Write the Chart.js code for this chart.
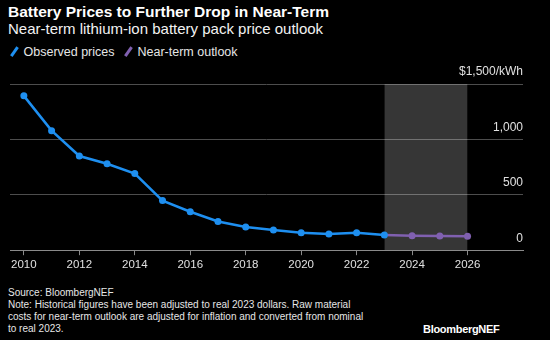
<!DOCTYPE html>
<html>
<head>
<meta charset="utf-8">
<script src="https://cdn.jsdelivr.net/npm/chart.js@4/dist/chart.umd.min.js"></script>
<style>
  body { margin: 0; background: #000; width: 550px; height: 340px; overflow: hidden; position: relative;
         font-family: "Liberation Sans", Arial, sans-serif; color: #fff; }
  #title { position: absolute; left: 8px; top: 3px; font-size: 15.5px; font-weight: bold; }
  #subtitle { position: absolute; left: 8px; top: 20px; font-size: 15px; color: #f2f2f2; }
  #legend { position: absolute; left: 8px; top: 45px; font-size: 12.5px; color: #e6e6e6; white-space: nowrap; }
  #legend span.item { margin-right: 4px; }
  #legend i { display: inline-block; width: 2.5px; height: 11px; transform: rotate(35deg); margin: 0 8px -1px 5px; }
  #chart-box { position: absolute; left: 0; top: 60px; }
  #footer { position: absolute; left: 8px; top: 287px; font-size: 10px; line-height: 12px; color: #e6e6e6; }
  #logo { position: absolute; left: 423px; top: 323px; font-size: 11px; font-weight: bold; letter-spacing: -0.3px; }
</style>
</head>
<body>
<div id="title">Battery Prices to Further Drop in Near-Term</div>
<div id="subtitle">Near-term lithium-ion battery pack price outlook</div>
<div id="legend">
  <span class="item"><i style="background:#1e8ff0"></i>Observed prices</span>
  <span class="item"><i style="background:#8060b0"></i>Near-term outlook</span>
</div>
<div id="chart-box"><canvas id="price-chart" width="550" height="222"></canvas></div>
<div id="footer">
  Source: BloombergNEF<br>
  Note: Historical figures have been adjusted to real 2023 dollars. Raw material<br>
  costs for near-term outlook are adjusted for inflation and converted from nominal<br>
  to real 2023.
</div>
<div id="logo">BloombergNEF</div>

<script>
'use strict';

var observedYears = [2010, 2011, 2012, 2013, 2014, 2015, 2016, 2017, 2018, 2019, 2020, 2021, 2022, 2023];
var observedPrices = [1393, 1079, 850, 780, 692, 448, 347, 259, 210, 183, 158, 146, 158, 137];
var outlookYears = [2023, 2024, 2025, 2026];
var outlookPrices = [137, 131, 128, 125];
var forecastRange = [2023, 2026];
var xTickYears = [2010, 2012, 2014, 2016, 2018, 2020, 2022, 2024, 2026];
var yTickValues = [0, 500, 1000, 1500];

function toPoints(xs, ys) {
  return xs.map(function(x, i) { return { x: x, y: ys[i] }; });
}

var ctx = document.getElementById('price-chart').getContext('2d');
var yMax = yTickValues[yTickValues.length - 1];

new Chart(ctx, {
  type: 'line',
  data: {
    datasets: [
      {
        label: 'Observed prices',
        data: toPoints(observedYears, observedPrices),
        borderColor: '#1e8ff0',
        backgroundColor: '#1e8ff0',
        borderWidth: 2.5,
        pointRadius: 3.5,
        pointBorderWidth: 0,
        order: 1
      },
      {
        label: 'Near-term outlook',
        data: toPoints(outlookYears, outlookPrices),
        borderColor: '#8060b0',
        backgroundColor: '#8060b0',
        borderWidth: 2.5,
        pointRadius: function(c) { return c.dataIndex === 0 ? 0 : 3.5; },
        pointBorderWidth: 0,
        order: 2
      },
      {
        label: 'forecast band',
        data: forecastRange.map(function(x) { return { x: x, y: yMax }; }),
        borderWidth: 0,
        pointRadius: 0,
        fill: 'origin',
        backgroundColor: 'rgba(255,255,255,0.21)',
        order: 3
      }
    ]
  },
  options: {
    responsive: false,
    animation: false,
    layout: { padding: { left: 10, right: 27, top: 24, bottom: 7 } },
    plugins: {
      legend: { display: false },
      tooltip: { enabled: false }
    },
    scales: {
      x: {
        type: 'linear',
        min: 2009.5,
        max: 2028,
        afterBuildTicks: function(axis) {
          axis.ticks = xTickYears.map(function(v) { return { value: v }; });
        },
        grid: { drawOnChartArea: false, drawTicks: true, tickLength: 5, color: '#8a8a8a' },
        border: { display: true, color: '#8a8a8a' },
        ticks: {
          color: '#e0e0e0',
          font: { family: '"Liberation Sans", Arial, sans-serif', size: 11.5 },
          padding: 3,
          maxRotation: 0,
          callback: function(v) { return String(v); }
        }
      },
      y: {
        position: 'right',
        min: 0,
        max: yMax,
        afterBuildTicks: function(axis) {
          axis.ticks = yTickValues.map(function(v) { return { value: v }; });
        },
        grid: {
          drawTicks: false,
          color: function(c) { return c.tick && c.tick.value === 0 ? '#8a8a8a' : '#4d4d4d'; }
        },
        border: { display: false },
        ticks: {
          mirror: true,
          padding: 0,
          labelOffset: -12,
          color: '#e0e0e0',
          font: { family: '"Liberation Sans", Arial, sans-serif', size: 12 },
          callback: function(v) {
            var s = v.toLocaleString('en-US');
            return v === yMax ? '$' + s + '/kWh' : s;
          }
        }
      }
    }
  }
});
</script>
</body>
</html>
